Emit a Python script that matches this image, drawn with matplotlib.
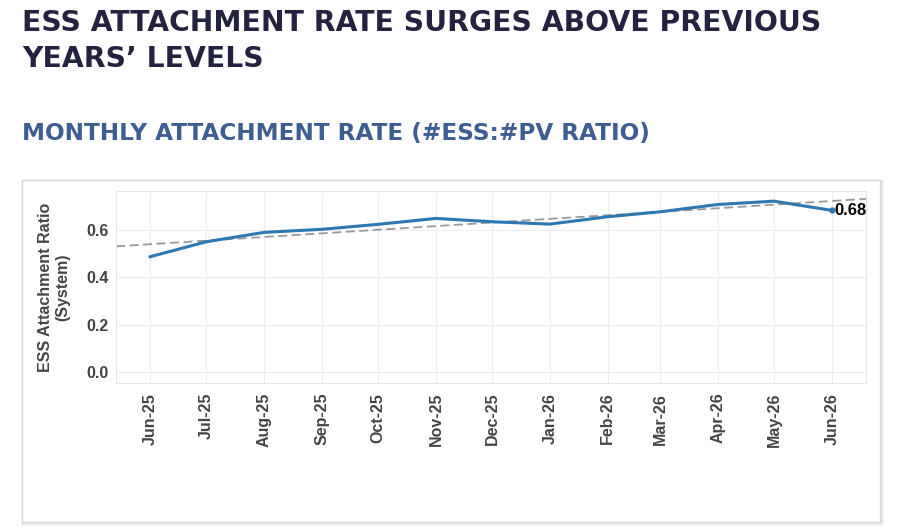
import numpy as np
import pandas as pd
import matplotlib
matplotlib.use("Agg")
from matplotlib import pyplot as plt
import matplotlib.dates as mdates
from matplotlib.patches import Rectangle
from matplotlib import font_manager as fm

# Monatswerte
months = pd.date_range("2025-06-01", "2026-06-01", freq="MS")
month_labels = ["Jun-25", "Jul-25", "Aug-25", "Sep-25", "Oct-25", "Nov-25", "Dec-25",
                "Jan-26", "Feb-26", "Mar-26", "Apr-26", "May-26", "Jun-26"]
ratio = [0.487, 0.55, 0.59, 0.603, 0.624, 0.649, 0.635,
         0.625, 0.656, 0.677, 0.708, 0.722, 0.683]
y_ticks = [0.0, 0.2, 0.4, 0.6]

title = "ESS ATTACHMENT RATE SURGES ABOVE PREVIOUS\nYEARS\u2019 LEVELS"
subtitle = "MONTHLY ATTACHMENT RATE (#ESS:#PV RATIO)"

# Arial-artige fette Schrift (nicht die Narrow-Variante)
bold_file = None
for f in fm.fontManager.ttflist:
    if f.name == "Liberation Sans" and f.weight in (700, "bold") and f.style == "normal" \
            and "narrow" not in f.fname.lower():
        bold_file = f.fname
        break


def lab_font(size):
    if bold_file:
        return fm.FontProperties(fname=bold_file, size=size)
    return fm.FontProperties(family="Liberation Sans", weight="bold", size=size)


fig = plt.figure(figsize=(9.01, 5.31), dpi=100)

# Titel
fig.text(22 / 901, 1 - 9 / 531, title, ha="left", va="top", fontsize=20.3,
         fontweight="bold", family="DejaVu Sans", color="#23233f", linespacing=1.38)
fig.text(22 / 901, 1 - 122 / 531, subtitle, ha="left", va="top", fontsize=16.7,
         fontweight="bold", family="DejaVu Sans", color="#3e5e92")

# Karte um das Diagramm (mit leichtem Schatten)
for off, alpha in [(3, 0.03), (2, 0.05), (1, 0.08)]:
    fig.patches.append(Rectangle((22 / 901, 1 - (522 + off) / 531),
                                 (858 + off) / 901, (342 + off) / 531,
                                 transform=fig.transFigure, facecolor="none",
                                 edgecolor=(0, 0, 0, alpha), lw=1, zorder=-2))
fig.patches.append(Rectangle((22 / 901, 1 - 522 / 531), 858 / 901, 342 / 531,
                             transform=fig.transFigure, facecolor="white",
                             edgecolor="#d8d8d8", lw=1, zorder=-1))

ax = fig.add_axes([116 / 901, 1 - 383 / 531, 750 / 901, 192 / 531])
ax.set_zorder(2)
ax.set_facecolor("white")

x = mdates.date2num(months)
ax.plot(months, ratio, color="#2b78b3", lw=2.2, zorder=3)
ax.plot(months[-1], ratio[-1], marker="o", ms=3.5, color="#2b78b3", zorder=4)

ax.set_xlim(x[0] - 0.05 * (x[-1] - x[0]), x[-1] + 0.05 * (x[-1] - x[0]))
ax.set_ylim(-0.047, 0.765)

# Trendlinie (lineare Regression)
coef = np.polyfit(x, ratio, 1)
xl = np.array(ax.get_xlim())
ax.plot(xl, np.polyval(coef, xl), color="#999999", lw=1.3, ls=(0, (5, 2.5)), zorder=2)

ax.annotate(f"{ratio[-1]:.2f}", (x[-1], ratio[-1]), xytext=(1.5, 0),
            textcoords="offset points", ha="left", va="center",
            fontproperties=lab_font(12), color="black", zorder=5)

ax.set_xticks(months)
ax.set_xticklabels(month_labels, rotation=90, fontproperties=lab_font(11.5), color="#444444")
ax.set_yticks(y_ticks)
ax.set_yticklabels([f"{v:.1f}" for v in y_ticks], fontproperties=lab_font(11.5),
                   color="#444444")
ax.tick_params(axis="both", length=0)
ax.tick_params(axis="y", pad=5)
ax.tick_params(axis="x", pad=7)
ax.grid(True, color="#ededed", lw=0.8)
ax.set_axisbelow(True)
for s in ax.spines.values():
    s.set_color("#e6e6e6")
    s.set_linewidth(0.8)

ax.set_ylabel("ESS Attachment Ratio\n(System)", fontproperties=lab_font(11.5),
              color="#444444", labelpad=12)

fig.savefig("out.png", dpi=100, facecolor="white")
